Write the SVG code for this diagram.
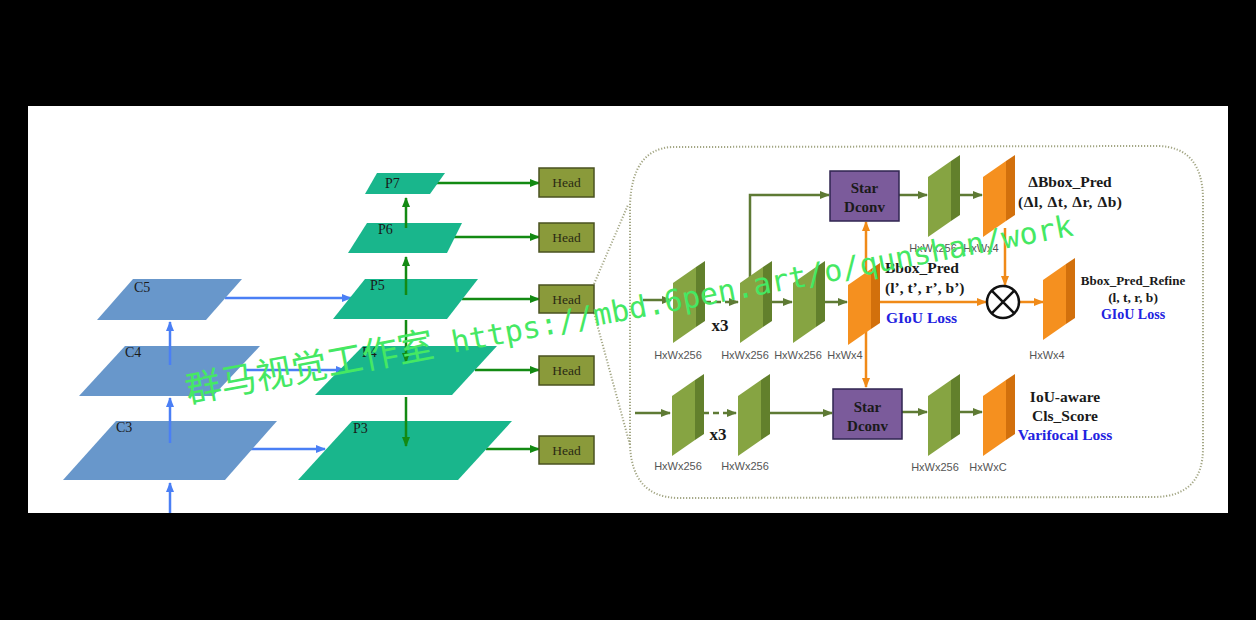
<svg xmlns="http://www.w3.org/2000/svg" width="1256" height="620" viewBox="0 0 1256 620">
<style>
.lbl{font-family:"Liberation Serif","Times New Roman",serif;font-size:14px;fill:#1a1a1a}
.head{font-family:"Liberation Serif","Times New Roman",serif;font-size:13.5px;fill:#2a2a14;text-anchor:middle}
.dim{font-family:"Liberation Sans",Arial,sans-serif;font-size:11px;fill:#555;text-anchor:middle}
.bt{font-family:"Liberation Serif","Times New Roman",serif;font-weight:bold;fill:#1a1a1a}
.blue{fill:#2222e0}
.mid{text-anchor:middle}
.cl{fill:#6897cb}
.pl{fill:#19b68c}
.hb{fill:#8a9a3a;stroke:#4a5220;stroke-width:1.5}
.pb{fill:#7b5b9b;stroke:#2f2550;stroke-width:1.5}
.ab{stroke:#4a7ff5;stroke-width:2.5;fill:none}
.ag{stroke:#138a13;stroke-width:2.5;fill:none}
.ao{stroke:#5e7a34;stroke-width:2.5;fill:none}
.aor{stroke:#f08a18;stroke-width:2.5;fill:none}
.dot{stroke:#a3a684;stroke-width:2;fill:none;stroke-dasharray:1.2 1.8}
</style>
<defs>
<marker id="mb" markerUnits="userSpaceOnUse" markerWidth="10" markerHeight="10" refX="9" refY="4" orient="auto"><path d="M0,0 L10,4 L0,8 Z" fill="#4a7ff5"/></marker>
<marker id="mg" markerUnits="userSpaceOnUse" markerWidth="10" markerHeight="10" refX="9" refY="4" orient="auto"><path d="M0,0 L10,4 L0,8 Z" fill="#138a13"/></marker>
<marker id="mo" markerUnits="userSpaceOnUse" markerWidth="10" markerHeight="10" refX="9" refY="4" orient="auto"><path d="M0,0 L10,4 L0,8 Z" fill="#5e7a34"/></marker>
<marker id="mr" markerUnits="userSpaceOnUse" markerWidth="10" markerHeight="10" refX="9" refY="4" orient="auto"><path d="M0,0 L10,4 L0,8 Z" fill="#f08a18"/></marker>
<g id="gs"><polygon points="0,22 23,6 23,66 0,82" fill="#86a442"/><polygon points="23,6 32,0 32,60 23,66" fill="#62802c"/></g>
<g id="os"><polygon points="0,22 23,6 23,66 0,82" fill="#f5901f"/><polygon points="23,6 32,0 32,60 23,66" fill="#d2700c"/></g>
</defs>
<rect x="0" y="0" width="1256" height="620" fill="#000"/>
<rect x="28" y="106" width="1200" height="407" fill="#fff"/>

<g id="connectors">
<line class="ab" x1="170" y1="513" x2="170" y2="483" marker-end="url(#mb)"/>
<line class="ab" x1="225" y1="298" x2="351" y2="298" marker-end="url(#mb)"/>
<line class="ab" x1="245" y1="370" x2="345" y2="370" marker-end="url(#mb)"/>
<line class="ab" x1="250" y1="449" x2="325" y2="449" marker-end="url(#mb)"/>
<line class="ag" x1="435" y1="183" x2="539" y2="183" marker-end="url(#mg)"/>
<line class="ag" x1="448" y1="237" x2="539" y2="237" marker-end="url(#mg)"/>
<line class="ag" x1="462" y1="299" x2="539" y2="299" marker-end="url(#mg)"/>
<line class="ag" x1="475" y1="370" x2="539" y2="370" marker-end="url(#mg)"/>
<line class="ag" x1="486" y1="449" x2="539" y2="449" marker-end="url(#mg)"/>
<path class="dot" d="M594,284 L628,205"/>
<path class="dot" d="M594,313 L630,445"/>
<path class="dot" d="M630,205 Q632,149 672,147 L1158,146 Q1203,147 1203,200 L1203,448 Q1203,496 1155,497 L678,498 Q632,497 630,445 Z"/>
<line class="ao" x1="643" y1="300" x2="671" y2="300" marker-end="url(#mo)"/>
<line class="ao" x1="705" y1="302" x2="738" y2="302" stroke-dasharray="6 4" marker-end="url(#mo)"/>
<line class="ao" x1="771" y1="302" x2="792" y2="302" marker-end="url(#mo)"/>
<line class="ao" x1="824" y1="302" x2="847" y2="302" marker-end="url(#mo)"/>
<polyline class="ao" points="750,280 750,195 829,195" marker-end="url(#mo)"/>
<line class="ao" x1="899" y1="195" x2="927" y2="195" marker-end="url(#mo)"/>
<line class="ao" x1="960" y1="195" x2="982" y2="195" marker-end="url(#mo)"/>
<line class="ao" x1="635" y1="413" x2="670" y2="413" marker-end="url(#mo)"/>
<line class="ao" x1="703" y1="413" x2="736" y2="413" stroke-dasharray="6 4" marker-end="url(#mo)"/>
<line class="ao" x1="770" y1="413" x2="832" y2="413" marker-end="url(#mo)"/>
<line class="ao" x1="902" y1="412" x2="927" y2="412" marker-end="url(#mo)"/>
<line class="ao" x1="960" y1="412" x2="982" y2="412" marker-end="url(#mo)"/>
<line class="aor" x1="866" y1="300" x2="866" y2="222" marker-end="url(#mr)"/>
<line class="aor" x1="866" y1="300" x2="866" y2="387" marker-end="url(#mr)"/>
<line class="aor" x1="880" y1="302" x2="986" y2="302" marker-end="url(#mr)"/>
<line class="aor" x1="1005" y1="228" x2="1005" y2="285" marker-end="url(#mr)"/>
<line class="aor" x1="1020" y1="302" x2="1043" y2="302" marker-end="url(#mr)"/>
</g>

<g id="C5"><polygon class="cl" points="133,279 242,279 206,320 97,320"/><text class="lbl" x="134" y="292">C5</text></g>
<g id="C4"><polygon class="cl" points="125,346 260,346 213,396 79,396"/><text class="lbl" x="125" y="357">C4</text></g>
<g id="C3"><polygon class="cl" points="116,421 277,421 225,480 63,480"/><text class="lbl" x="116" y="432">C3</text></g>
<g id="c-vert">
<line class="ab" x1="170" y1="443" x2="170" y2="398" marker-end="url(#mb)"/>
<line class="ab" x1="170" y1="365" x2="170" y2="322" marker-end="url(#mb)"/>
</g>

<g id="P7"><polygon class="pl" points="377,173 445,173 430,194 365,194"/><text class="lbl" x="385" y="188">P7</text></g>
<g id="P6"><polygon class="pl" points="367,223 462,223 447,253 348,253"/><text class="lbl" x="378" y="234">P6</text></g>
<g id="P5"><polygon class="pl" points="365,279 478,279 447,319 333,319"/><text class="lbl" x="370" y="290">P5</text></g>
<g id="P4"><polygon class="pl" points="363,346 497,346 452,395 315,395"/><text class="lbl" x="362" y="357">P4</text></g>
<g id="P3"><polygon class="pl" points="352,421 512,421 458,480 298,480"/><text class="lbl" x="353" y="433">P3</text></g>
<g id="p-vert">
<line class="ag" x1="406" y1="228" x2="406" y2="198" marker-end="url(#mg)"/>
<line class="ag" x1="406" y1="295" x2="406" y2="257" marker-end="url(#mg)"/>
<line class="ag" x1="406" y1="320" x2="406" y2="362" marker-end="url(#mg)"/>
<line class="ag" x1="406" y1="397" x2="406" y2="446" marker-end="url(#mg)"/>
</g>

<g id="Head1"><rect class="hb" x="539" y="168" width="55" height="29"/><text class="head" x="566.5" y="187">Head</text></g>
<g id="Head2"><rect class="hb" x="539" y="223" width="55" height="29"/><text class="head" x="566.5" y="242">Head</text></g>
<g id="Head3"><rect class="hb" x="539" y="285" width="55" height="28"/><text class="head" x="566.5" y="304">Head</text></g>
<g id="Head4"><rect class="hb" x="539" y="356" width="55" height="29"/><text class="head" x="566.5" y="375">Head</text></g>
<g id="Head5"><rect class="hb" x="539" y="436" width="55" height="28"/><text class="head" x="566.5" y="455">Head</text></g>

<g id="S1"><use href="#gs" x="673" y="261"/><text class="dim" x="678" y="359">HxWx256</text></g>
<g id="S2"><use href="#gs" x="740" y="261"/><text class="dim" x="745" y="359">HxWx256</text></g>
<g id="S3"><use href="#gs" x="793" y="261"/><text class="dim" x="798" y="359">HxWx256</text></g>
<g id="O1"><use href="#os" x="848" y="263"/><text class="dim" x="845" y="359">HxWx4</text></g>
<g id="x3a"><text class="bt mid" x="720" y="331" font-size="17">x3</text></g>

<g id="DconvTop"><rect class="pb" x="830" y="171" width="69" height="50"/><text class="bt mid" x="864.5" y="193" font-size="15">Star</text><text class="bt mid" x="864.5" y="212" font-size="15">Dconv</text></g>
<g id="Gtop"><use href="#gs" x="928" y="155"/><text class="dim" x="933" y="252">HxWx256</text></g>
<g id="Otop"><use href="#os" x="983" y="155"/><text class="dim" x="981" y="252">HxWx4</text></g>
<g id="dpred"><text class="bt mid" x="1070" y="187" font-size="15.5">ΔBbox_Pred</text><text class="bt mid" x="1070" y="207" font-size="15.5" textLength="104" lengthAdjust="spacing">(Δl, Δt, Δr, Δb)</text></g>

<g id="bpred"><text class="bt" x="885" y="273" font-size="15.5">Bbox_Pred</text><text class="bt" x="885" y="293" font-size="15.5">(l’, t’, r’, b’)</text><text class="bt blue" x="886" y="323" font-size="15.5">GIoU Loss</text></g>

<g id="mult"><circle cx="1003" cy="302" r="16" fill="#fff" stroke="#111" stroke-width="2.5"/><path d="M991.7,290.7 L1014.3,313.3 M1014.3,290.7 L991.7,313.3" stroke="#111" stroke-width="2.5"/></g>
<g id="Oref"><use href="#os" x="1043" y="258"/><text class="dim" x="1047" y="359">HxWx4</text></g>
<g id="refine"><text class="bt mid" x="1133" y="285" font-size="13">Bbox_Pred_Refine</text><text class="bt mid" x="1133" y="302" font-size="13.5">(l, t, r, b)</text><text class="bt mid blue" x="1133" y="319" font-size="14">GIoU Loss</text></g>

<g id="S4"><use href="#gs" x="672" y="374"/><text class="dim" x="678" y="470">HxWx256</text></g>
<g id="S5"><use href="#gs" x="738" y="374"/><text class="dim" x="745" y="470">HxWx256</text></g>
<g id="x3b"><text class="bt mid" x="718" y="440" font-size="17">x3</text></g>
<g id="DconvBot"><rect class="pb" x="833" y="389" width="69" height="50"/><text class="bt mid" x="867.5" y="412" font-size="15">Star</text><text class="bt mid" x="867.5" y="431" font-size="15">Dconv</text></g>
<g id="Gbot"><use href="#gs" x="928" y="374"/><text class="dim" x="935" y="471">HxWx256</text></g>
<g id="Obot"><use href="#os" x="983" y="374"/><text class="dim" x="988" y="471">HxWxC</text></g>
<g id="cls"><text class="bt mid" x="1065" y="402" font-size="15.5">IoU-aware</text><text class="bt mid" x="1065" y="421" font-size="15.5">Cls_Score</text><text class="bt mid blue" x="1065" y="440" font-size="15.5">Varifocal Loss</text></g>

<g id="watermark"><text transform="rotate(-10.7 188 403)" x="188" y="403" fill="#45e863"><tspan font-family="'Noto Sans CJK SC','Noto Sans',sans-serif" font-size="36">群马视觉工作室</tspan><tspan font-family="'DejaVu Sans Mono','Liberation Mono',monospace" font-size="30"> https://mbd.6pen.art/o/qunshan/work</tspan></text></g>
</svg>
